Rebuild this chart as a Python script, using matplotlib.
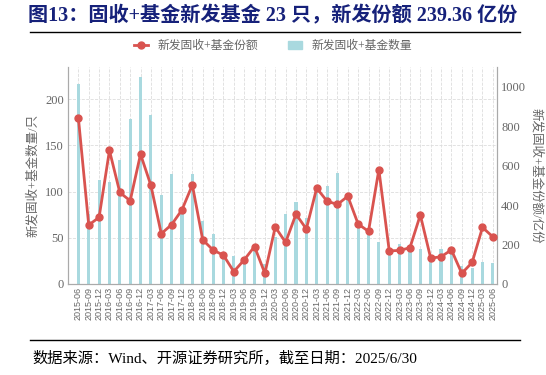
import matplotlib
matplotlib.use("Agg")
import matplotlib.pyplot as plt
from matplotlib.lines import Line2D
from matplotlib.patches import Patch
import numpy as np

plt.rcParams["font.family"] = ["Liberation Serif", "Noto Sans CJK SC", "DejaVu Sans"]

quarters = [
    "2015-06", "2015-09", "2015-12",
    "2016-03", "2016-06", "2016-09", "2016-12",
    "2017-03", "2017-06", "2017-09", "2017-12",
    "2018-03", "2018-06", "2018-09", "2018-12",
    "2019-03", "2019-06", "2019-09", "2019-12",
    "2020-03", "2020-06", "2020-09", "2020-12",
    "2021-03", "2021-06", "2021-09", "2021-12",
    "2022-03", "2022-06", "2022-09", "2022-12",
    "2023-03", "2023-06", "2023-09", "2023-12",
    "2024-03", "2024-06", "2024-09", "2024-12",
    "2025-03", "2025-06",
]
# number of new funds (left axis)
fund_count = [
    217, 76, 113,
    111, 134, 179, 224,
    183, 96, 119, 80,
    119, 68, 54, 31,
    30, 25, 36, 22,
    51, 76, 89, 72,
    100, 106, 120, 94,
    67, 56, 46, 38,
    43, 40, 38, 30,
    38, 36, 19, 17,
    24, 23,
]
# new shares, 100 million units (right axis)
fund_share = [
    843, 299, 338,
    677, 464, 422, 658,
    500, 255, 301, 376,
    502, 224, 172, 146,
    63, 122, 190, 54,
    289, 211, 354, 279,
    486, 420, 403, 445,
    304, 267, 580, 168,
    170, 184, 350, 131,
    138, 173, 54, 109,
    287, 239,
]

BAR_COLOR = "#a9d9df"
LINE_COLOR = "#d9534f"
GRAY = "#666666"
TITLE_COLOR = "#16217a"

fig = plt.figure(figsize=(5.46, 3.75), dpi=100)
ax = fig.add_axes([68 / 546, 91 / 375, 429 / 546, 217 / 375])
ax2 = ax.twinx()

x = np.arange(len(quarters))
ax.bar(x, fund_count, width=0.3, color=BAR_COLOR, zorder=2)
ax2.plot(x, fund_share, color=LINE_COLOR, lw=2, marker="o", ms=5, zorder=3)

ax.set_xlim(-1, len(quarters) - 0.6)
ax.set_ylim(0, 235)
ax2.set_ylim(0, 1100)
ax.set_yticks([0, 50, 100, 150, 200])
ax2.set_yticks([0, 200, 400, 600, 800, 1000])
ax.set_xticks(x)
ax.set_xticklabels(quarters, rotation=90, fontsize=6.5, color=GRAY, family="Liberation Sans")

ax.grid(True, color="#dddddd", ls="--", lw=0.6, zorder=0)
ax.set_axisbelow(True)

for a in (ax, ax2):
    a.spines["top"].set_visible(False)
    for s in ("left", "right", "bottom"):
        a.spines[s].set_color("#aaaaaa")
    a.tick_params(length=0, labelsize=9, labelcolor=GRAY, pad=3)
ax.tick_params(axis="x", labelsize=6.5, pad=2)

ax.set_ylabel("新发固收+基金数量/只", color=GRAY, fontsize=9, labelpad=4)
ax2.set_ylabel("新发固收+基金份额/亿份", color=GRAY, fontsize=9, rotation=270, labelpad=12)

handles = [
    Line2D([0], [0], color=LINE_COLOR, lw=2, marker="o", ms=5),
    Patch(color=BAR_COLOR),
]
fig.legend(handles, ["新发固收+基金份额", "新发固收+基金数量"], loc="center",
           bbox_to_anchor=(0.5, 1 - 46 / 375), ncol=2, frameon=False,
           fontsize=8.5, labelcolor=GRAY, handlelength=1.2, columnspacing=2.5)

fig.text(0.5, 1 - 16 / 375, "图13：固收+基金新发基金 23 只，新发份额 239.36 亿份",
         ha="center", va="center", fontsize=14.5, fontweight="bold", color=TITLE_COLOR)
fig.add_artist(Line2D([30 / 546, 520 / 546], [1 - 32 / 375] * 2, color="black", lw=1))
fig.add_artist(Line2D([30 / 546, 520 / 546], [1 - 340 / 375] * 2, color="black", lw=1))
fig.text(32 / 546, 1 - 358 / 375, "数据来源：Wind、开源证券研究所，截至日期：2025/6/30",
         ha="left", va="center", fontsize=11, color="black")

fig.savefig("out.png", dpi=100)
